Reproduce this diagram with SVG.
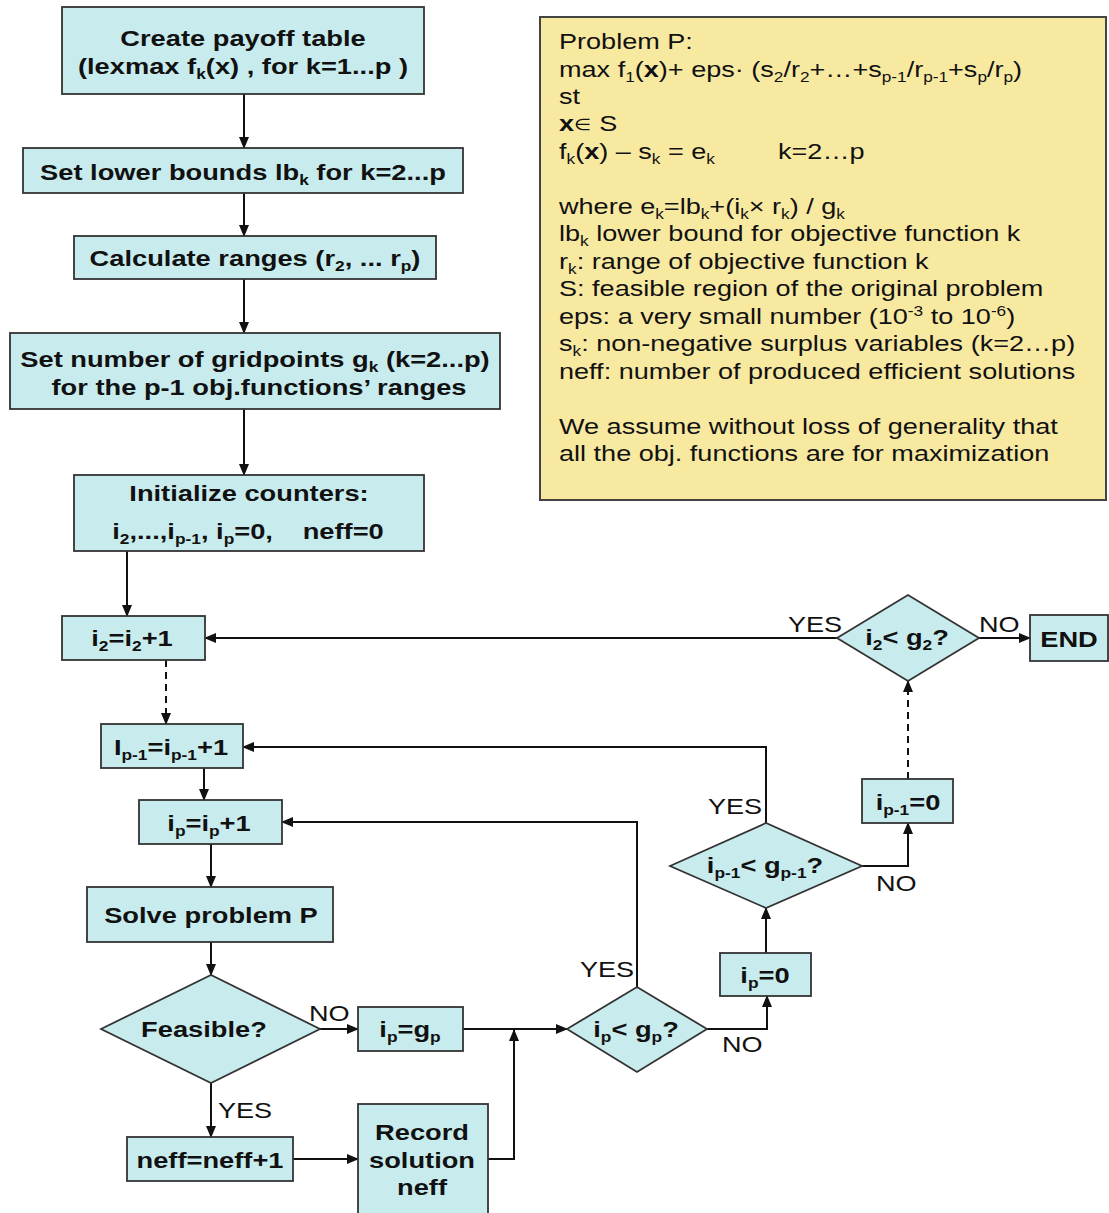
<svg xmlns="http://www.w3.org/2000/svg" width="1109" height="1213" viewBox="0 0 1109 1213">
<style>
.box{fill:#c8ecee;stroke:#333;stroke-width:1.8}
.note{fill:#f8e9a1;stroke:#444;stroke-width:2}
.t{font-family:"Liberation Sans",Arial,sans-serif;font-weight:bold;font-size:22px;fill:#111;text-anchor:middle}
.n{font-family:"Liberation Sans",Arial,sans-serif;font-size:22px;fill:#111}
.s{font-size:14px}
.b{font-weight:bold}
.edge{stroke:#111;stroke-width:2;fill:none}
.arr{marker-end:url(#ah)}
.dash{stroke-dasharray:7,5}
</style>
<defs>
<marker id="ah" markerUnits="userSpaceOnUse" markerWidth="12" markerHeight="10" refX="11" refY="5" orient="auto">
<path d="M0,0 L12,5 L0,10 z" fill="#111"/>
</marker>
</defs>
<rect width="1109" height="1213" fill="#ffffff"/>

<g id="connectors">
<path class="edge arr" d="M244,94 V148"/>
<path class="edge arr" d="M244,193 V236"/>
<path class="edge arr" d="M244,279 V333"/>
<path class="edge arr" d="M244,409 V475"/>
<path class="edge arr" d="M127,551 V616"/>
<path class="edge arr" d="M979,638 H1030"/>
<path class="edge arr" d="M837,638 H205"/>
<path class="edge arr dash" d="M166,660 V724"/>
<path class="edge arr" d="M204,768 V800"/>
<path class="edge arr" d="M211,844 V887"/>
<path class="edge arr" d="M211,942 V975"/>
<path class="edge arr" d="M320,1029 H358"/>
<path class="edge arr" d="M463,1029 H567"/>
<path class="edge arr" d="M211,1083 V1137"/>
<path class="edge arr" d="M293,1159 H358"/>
<path class="edge arr" d="M488,1159 H514 V1030"/>
<path class="edge arr" d="M637,987 V822 H282"/>
<path class="edge arr" d="M707,1029 H767 V996"/>
<path class="edge arr" d="M766,953 V908"/>
<path class="edge arr" d="M766,823 V747 H243"/>
<path class="edge arr" d="M862,866 H908 V823"/>
<path class="edge arr dash" d="M908,779 V681"/>
</g>

<g id="labels">
<text class="n" transform="translate(788,632) scale(1.23,1)">YES</text>
<text class="n" transform="translate(979,632) scale(1.23,1)">NO</text>
<text class="n" transform="translate(708,814) scale(1.23,1)">YES</text>
<text class="n" transform="translate(876,891) scale(1.23,1)">NO</text>
<text class="n" transform="translate(580,977) scale(1.23,1)">YES</text>
<text class="n" transform="translate(722,1052) scale(1.23,1)">NO</text>
<text class="n" transform="translate(309,1021) scale(1.23,1)">NO</text>
<text class="n" transform="translate(218,1118) scale(1.23,1)">YES</text>
</g>

<g id="payoff">
<rect class="box" x="62" y="7" width="362" height="87"/>
<text class="t" transform="translate(243,46) scale(1.24,1)">Create payoff table</text>
<text class="t" transform="translate(243,74) scale(1.24,1)">(lexmax f<tspan class="s" dy="5">k</tspan><tspan dy="-5">(x) , for k=1...p )</tspan></text>
</g>

<g id="lowerbounds">
<rect class="box" x="23" y="148" width="440" height="45"/>
<text class="t" transform="translate(243,180) scale(1.24,1)">Set lower bounds lb<tspan class="s" dy="5">k</tspan><tspan dy="-5"> for k=2...p</tspan></text>
</g>

<g id="ranges">
<rect class="box" x="74" y="236" width="362" height="43"/>
<text class="t" transform="translate(255,266) scale(1.24,1)">Calculate ranges (r<tspan class="s" dy="5">2</tspan><tspan dy="-5">, ... r</tspan><tspan class="s" dy="5">p</tspan><tspan dy="-5">)</tspan></text>
</g>

<g id="gridpoints">
<rect class="box" x="10" y="333" width="490" height="76"/>
<text class="t" transform="translate(255,367) scale(1.24,1)">Set number of gridpoints g<tspan class="s" dy="5">k</tspan><tspan dy="-5"> (k=2...p)</tspan></text>
<text class="t" transform="translate(259,395) scale(1.24,1)">for the p-1 obj.functions’ ranges</text>
</g>

<g id="init">
<rect class="box" x="74" y="475" width="350" height="76"/>
<text class="t" transform="translate(249,501) scale(1.24,1)">Initialize counters:</text>
<text class="t" transform="translate(248,539) scale(1.24,1)">i<tspan class="s" dy="5">2</tspan><tspan dy="-5">,...,i</tspan><tspan class="s" dy="5">p-1</tspan><tspan dy="-5">, i</tspan><tspan class="s" dy="5">p</tspan><tspan dy="-5">=0,</tspan><tspan dx="24">neff=0</tspan></text>
</g>

<g id="i2inc">
<rect class="box" x="62" y="616" width="143" height="44"/>
<text class="t" transform="translate(132,646) scale(1.24,1)">i<tspan class="s" dy="5">2</tspan><tspan dy="-5">=i</tspan><tspan class="s" dy="5">2</tspan><tspan dy="-5">+1</tspan></text>
</g>

<g id="ip1inc">
<rect class="box" x="101" y="724" width="142" height="44"/>
<text class="t" transform="translate(171,755) scale(1.24,1)">I<tspan class="s" dy="5">p-1</tspan><tspan dy="-5">=i</tspan><tspan class="s" dy="5">p-1</tspan><tspan dy="-5">+1</tspan></text>
</g>

<g id="ipinc">
<rect class="box" x="139" y="800" width="143" height="44"/>
<text class="t" transform="translate(209,831) scale(1.24,1)">i<tspan class="s" dy="5">p</tspan><tspan dy="-5">=i</tspan><tspan class="s" dy="5">p</tspan><tspan dy="-5">+1</tspan></text>
</g>

<g id="solve">
<rect class="box" x="87" y="887" width="246" height="55"/>
<text class="t" transform="translate(211,923) scale(1.24,1)">Solve problem P</text>
</g>

<g id="feasible">
<polygon class="box" points="101,1029 211,975 320,1029 211,1083"/>
<text class="t" transform="translate(204,1037) scale(1.24,1)">Feasible?</text>
</g>

<g id="ipgp">
<rect class="box" x="358" y="1007" width="105" height="44"/>
<text class="t" transform="translate(410,1037) scale(1.24,1)">i<tspan class="s" dy="5">p</tspan><tspan dy="-5">=g</tspan><tspan class="s" dy="5">p</tspan></text>
</g>

<g id="neffinc">
<rect class="box" x="127" y="1137" width="166" height="44"/>
<text class="t" transform="translate(210,1168) scale(1.24,1)">neff=neff+1</text>
</g>

<g id="record">
<rect class="box" x="358" y="1104" width="130" height="112"/>
<text class="t" transform="translate(422,1140) scale(1.24,1)">Record</text>
<text class="t" transform="translate(422,1168) scale(1.24,1)">solution</text>
<text class="t" transform="translate(422,1195) scale(1.24,1)">neff</text>
</g>

<g id="iplt">
<polygon class="box" points="567,1029 637,987 707,1029 637,1072"/>
<text class="t" transform="translate(636,1037) scale(1.24,1)">i<tspan class="s" dy="5">p</tspan><tspan dy="-5">&lt; g</tspan><tspan class="s" dy="5">p</tspan><tspan dy="-5">?</tspan></text>
</g>

<g id="ipzero">
<rect class="box" x="720" y="953" width="91" height="43"/>
<text class="t" transform="translate(765,983) scale(1.24,1)">i<tspan class="s" dy="5">p</tspan><tspan dy="-5">=0</tspan></text>
</g>

<g id="ip1lt">
<polygon class="box" points="670,866 766,823 862,866 766,908"/>
<text class="t" transform="translate(765,873) scale(1.24,1)">i<tspan class="s" dy="5">p-1</tspan><tspan dy="-5">&lt; g</tspan><tspan class="s" dy="5">p-1</tspan><tspan dy="-5">?</tspan></text>
</g>

<g id="ip1zero">
<rect class="box" x="862" y="779" width="91" height="44"/>
<text class="t" transform="translate(908,810) scale(1.24,1)">i<tspan class="s" dy="5">p-1</tspan><tspan dy="-5">=0</tspan></text>
</g>

<g id="i2lt">
<polygon class="box" points="837,638 908,595 979,638 908,681"/>
<text class="t" transform="translate(907,645) scale(1.24,1)">i<tspan class="s" dy="5">2</tspan><tspan dy="-5">&lt; g</tspan><tspan class="s" dy="5">2</tspan><tspan dy="-5">?</tspan></text>
</g>

<g id="end">
<rect class="box" x="1030" y="615" width="78" height="46"/>
<text class="t" transform="translate(1069,647) scale(1.24,1)">END</text>
</g>

<g id="problem">
<rect class="note" x="540" y="17" width="566" height="483"/>
<text class="n" transform="translate(559,49) scale(1.23,1)">Problem P:</text>
<text class="n" transform="translate(559,76.5) scale(1.23,1)">max f<tspan class="s" dy="5">1</tspan><tspan dy="-5">(</tspan><tspan class="b">x</tspan>)+ eps· (s<tspan class="s" dy="5">2</tspan><tspan dy="-5">/r</tspan><tspan class="s" dy="5">2</tspan><tspan dy="-5">+…+s</tspan><tspan class="s" dy="5">p-1</tspan><tspan dy="-5">/r</tspan><tspan class="s" dy="5">p-1</tspan><tspan dy="-5">+s</tspan><tspan class="s" dy="5">p</tspan><tspan dy="-5">/r</tspan><tspan class="s" dy="5">p</tspan><tspan dy="-5">)</tspan></text>
<text class="n" transform="translate(559,104) scale(1.23,1)">st</text>
<text class="n" transform="translate(559,131.4) scale(1.23,1)"><tspan class="b">x</tspan><tspan font-size="16" dy="-1">∈</tspan><tspan dy="1"> S</tspan></text>
<text class="n" transform="translate(559,158.9) scale(1.23,1)">f<tspan class="s" dy="5">k</tspan><tspan dy="-5">(</tspan><tspan class="b">x</tspan>) – s<tspan class="s" dy="5">k</tspan><tspan dy="-5"> = e</tspan><tspan class="s" dy="5">k</tspan></text>
<text class="n" transform="translate(778,158.9) scale(1.23,1)">k=2…p</text>
<text class="n" transform="translate(559,213.8) scale(1.23,1)">where e<tspan class="s" dy="5">k</tspan><tspan dy="-5">=lb</tspan><tspan class="s" dy="5">k</tspan><tspan dy="-5">+(i</tspan><tspan class="s" dy="5">k</tspan><tspan dy="-5">× r</tspan><tspan class="s" dy="5">k</tspan><tspan dy="-5">) / g</tspan><tspan class="s" dy="5">k</tspan></text>
<text class="n" transform="translate(559,241.3) scale(1.23,1)">lb<tspan class="s" dy="5">k</tspan><tspan dy="-5"> lower bound for objective function k</tspan></text>
<text class="n" transform="translate(559,268.8) scale(1.23,1)">r<tspan class="s" dy="5">k</tspan><tspan dy="-5">: range of objective function k</tspan></text>
<text class="n" transform="translate(559,296.2) scale(1.23,1)">S: feasible region of the original problem</text>
<text class="n" transform="translate(559,323.7) scale(1.23,1)">eps: a very small number (10<tspan class="s" dy="-8">-3</tspan><tspan dy="8"> to 10</tspan><tspan class="s" dy="-8">-6</tspan><tspan dy="8">)</tspan></text>
<text class="n" transform="translate(559,351.2) scale(1.23,1)">s<tspan class="s" dy="5">k</tspan><tspan dy="-5">: non-negative surplus variables (k=2…p)</tspan></text>
<text class="n" transform="translate(559,378.6) scale(1.23,1)">neff: number of produced efficient solutions</text>
<text class="n" transform="translate(559,433.6) scale(1.23,1)">We assume without loss of generality that</text>
<text class="n" transform="translate(559,461) scale(1.23,1)">all the obj. functions are for maximization</text>
</g>
</svg>
